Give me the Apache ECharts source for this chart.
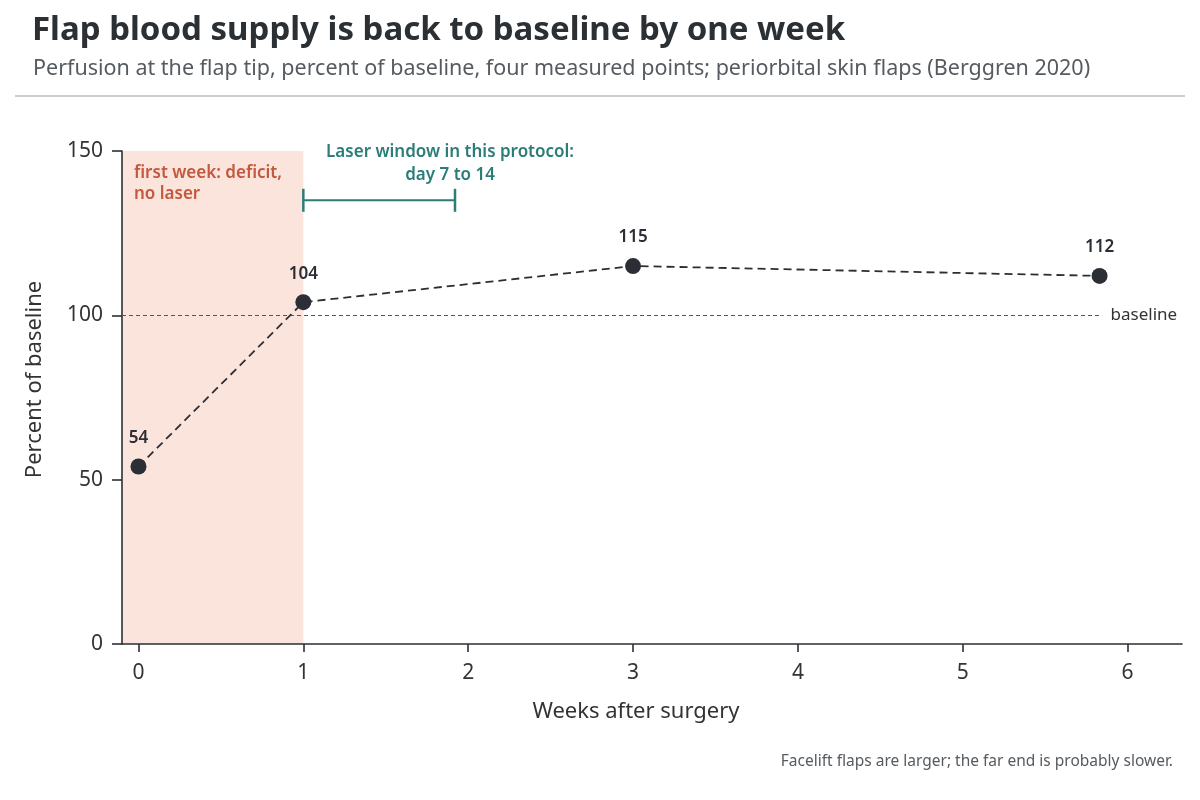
<!DOCTYPE html>
<html>
<head>
<meta charset="utf-8">
<title>Flap perfusion</title>
<script src="https://cdn.jsdelivr.net/npm/echarts@6/dist/echarts.min.js"></script>
<style>
  html, body { margin: 0; padding: 0; background: #fff; }
  #main { width: 1200px; height: 800px; }
</style>
</head>
<body>
<div id="main"></div>
<script>
// measured points: weeks after surgery, percent of baseline
var weeks = [0, 1, 3, 5.83];
var perfusion = [54, 104, 115, 112];
var xTicks = [0, 1, 2, 3, 4, 5, 6];
var baseline = 100;
// shaded first week and laser window (weeks)
var deficitSpan = [-0.1, 1];
var laserSpan = [1, 1.92];
var laserLevel = 135;
var laserNoteAt = [1.89, 135];

var ink = '#2b2f35';
var teal = '#2b7d78';
var rust = '#c4583f';
var font = '"Noto Sans", "Open Sans", sans-serif';

var chart = echarts.init(document.getElementById('main'));

var option = {
  backgroundColor: '#ffffff',
  animation: false,
  title: [
    {
      text: 'Flap blood supply is back to baseline by one week',
      left: 27, top: 9,
      textStyle: { fontFamily: font, fontSize: 33, fontWeight: 'bold', color: '#2b3035' }
    },
    {
      text: 'Perfusion at the flap tip, percent of baseline, four measured points; periorbital skin flaps (Berggren 2020)',
      left: 28, top: 53,
      textStyle: { fontFamily: font, fontSize: 21.5, fontWeight: 'normal', color: '#555b60' }
    },
    {
      text: 'Facelift flaps are larger; the far end is probably slower.',
      right: 22, top: 749,
      textStyle: { fontFamily: font, fontSize: 15.5, fontWeight: 'normal', color: '#555b60' }
    }
  ],
  graphic: [
    {
      type: 'line',
      shape: { x1: 15, y1: 96, x2: 1185, y2: 96 },
      style: { stroke: '#bdbdbd', lineWidth: 1.5 }
    }
  ],
  grid: { left: 122, right: 18, top: 151, bottom: 156, containLabel: false, outerBoundsMode: 'none' },
  xAxis: {
    type: 'value',
    min: deficitSpan[0],
    max: 6.33,
    z: 4,
    name: 'Weeks after surgery',
    nameLocation: 'middle',
    nameGap: 57,
    nameTextStyle: { fontFamily: font, fontSize: 22, color: '#333', padding: [0, 32, 0, 0] },
    axisLine: { show: true, onZero: false, lineStyle: { color: ink, width: 1.6 } },
    axisTick: { show: true, length: 8, customValues: xTicks, lineStyle: { color: ink, width: 1.6 } },
    axisLabel: { customValues: xTicks, fontFamily: font, fontSize: 21, color: '#333', margin: 19 },
    splitLine: { show: false }
  },
  yAxis: {
    type: 'value',
    min: 0,
    max: 150,
    interval: 50,
    z: 4,
    name: 'Percent of baseline',
    nameLocation: 'middle',
    nameGap: 76,
    nameTextStyle: { fontFamily: font, fontSize: 22, color: '#333', padding: [0, 0, 0, 36] },
    axisLine: { show: true, onZero: false, lineStyle: { color: ink, width: 1.6 } },
    axisTick: { show: true, length: 10, lineStyle: { color: ink, width: 1.6 } },
    axisLabel: { fontFamily: font, fontSize: 21, color: '#333', margin: 19 },
    splitLine: { show: false }
  },
  series: [
    {
      name: 'perfusion',
      type: 'line',
      data: weeks.map(function (w, i) { return [w, perfusion[i]]; }),
      symbol: 'circle',
      symbolSize: 16,
      itemStyle: { color: ink },
      lineStyle: { color: ink, width: 1.8, type: [8, 5] },
      label: {
        show: true,
        position: 'top',
        distance: 12,
        fontFamily: font,
        fontSize: 17,
        fontWeight: 600,
        color: ink,
        formatter: function (p) { return p.value[1]; }
      },
      z: 5,
      markArea: {
        silent: true,
        itemStyle: { color: '#fae4dc' },
        label: {
          show: true,
          position: 'insideTopLeft',
          distance: 12,
          fontFamily: font,
          fontSize: 17,
          fontWeight: 600,
          lineHeight: 21,
          color: rust
        },
        data: [[
          { name: 'first week: deficit,\nno laser', coord: [deficitSpan[0], 150] },
          { coord: [deficitSpan[1], 0] }
        ]]
      },
      markLine: {
        silent: true,
        symbol: ['none', 'none'],
        lineStyle: { color: '#555', width: 1, type: [4, 3] },
        label: {
          show: true,
          position: 'end',
          distance: 11,
          formatter: 'baseline',
          fontFamily: font,
          fontSize: 17,
          color: '#333'
        },
        data: [[
          { coord: [deficitSpan[0], baseline] },
          { coord: [weeks[weeks.length - 1], baseline] }
        ]]
      }
    },
    {
      name: 'laser window',
      type: 'line',
      data: laserSpan.map(function (w) { return [w, laserLevel]; }),
      symbol: 'rect',
      symbolSize: [2.5, 23],
      itemStyle: { color: teal },
      lineStyle: { color: teal, width: 2 },
      label: { show: false },
      markPoint: {
        silent: true,
        symbolSize: 0,
        label: {
          show: true,
          position: 'top',
          distance: 14,
          fontFamily: font,
          fontSize: 17,
          fontWeight: 600,
          lineHeight: 23,
          align: 'center',
          color: teal,
          formatter: 'Laser window in this protocol:\nday 7 to 14'
        },
        data: [{ coord: laserNoteAt }]
      }
    }
  ]
};

chart.setOption(option);
</script>
</body>
</html>
